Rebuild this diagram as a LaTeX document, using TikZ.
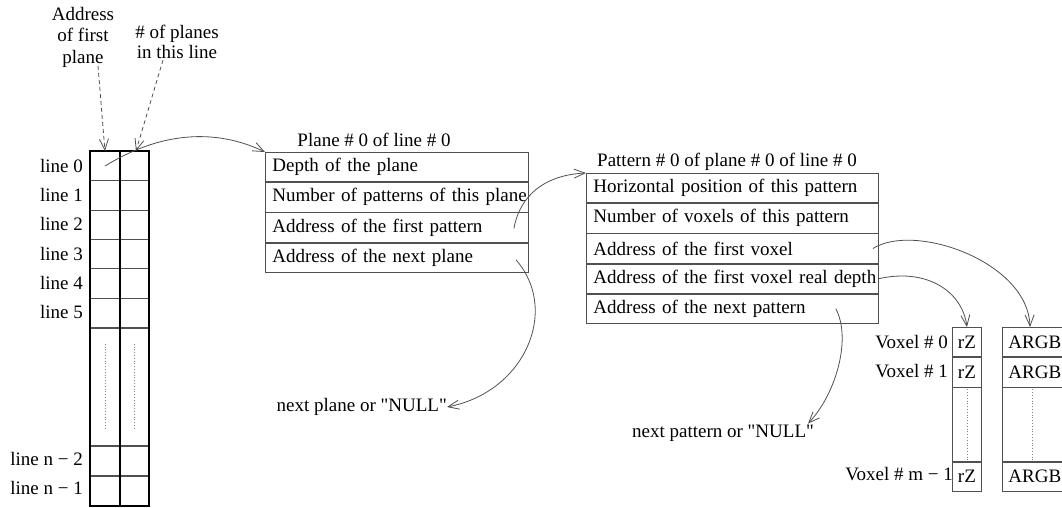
\documentclass[tikz,border=0pt]{standalone}
\usepackage{fontspec}
\setmainfont{Liberation Serif}
\usetikzlibrary{arrows.meta,calc}
\definecolor{edge}{HTML}{505050}
\newcommand{\qq}{\textquotedbl}
\begin{document}
\begin{tikzpicture}[x=1pt,y=-1pt,
  lbl/.style={font=\fontsize{19}{21}\selectfont, inner sep=0pt},
  field/.style={draw=edge, line width=0.9pt, anchor=north west, minimum height=29.3pt,
    inner xsep=7pt, inner ysep=0pt, align=left, font=\fontsize{19}{21}\selectfont},
  planefield/.style={field, text width=249pt},
  patfield/.style={field, text width=278pt},
  cell/.style={draw=edge, line width=0.9pt, anchor=north west, minimum width=29pt,
    minimum height=29.3pt, inner sep=0pt},
  rzcell/.style={cell, font=\fontsize{19}{21}\selectfont},
  argbcell/.style={field, text width=62pt, inner xsep=6pt},
  ptr/.style={draw=edge, line width=0.8pt, -{Straight Barb[length=11pt,width=9pt]}},
  note/.style={ptr, dash pattern=on 4pt off 3pt},
  frame/.style={line width=2.4pt, draw=black},
  ellipsis/.style={draw=gray, line width=0.8pt, dotted}]

\useasboundingbox (0,0) rectangle (1062,507);
\clip (0,0) rectangle (1062,507);

% ---- table of lines ----
\foreach \i in {0,...,5} {
  \node[cell] (a\i) at (90,151+\i*29.3) {};
  \node[cell] (b\i) at (119,151+\i*29.3) {};
  \node[lbl, anchor=east] (l\i) at (83,165.6+\i*29.3) {line \i};
}
\node[cell, minimum height=117.2pt] (ag) at (a5.south west) {};
\node[cell, minimum height=117.2pt] (bg) at (b5.south west) {};
\node[cell] (an2) at (ag.south west) {};
\node[cell] (bn2) at (bg.south west) {};
\node[cell] (an1) at (an2.south west) {};
\node[cell] (bn1) at (bn2.south west) {};
\node[lbl, anchor=east] (ln2) at (83,458.6) {line n − 2};
\node[lbl, anchor=east] (ln1) at (83,487.9) {line n − 1};
\draw[ellipsis] ($(ag.north)+(0,16)$) -- ($(ag.south)+(0,-17)$);
\draw[ellipsis] ($(bg.north)+(0,16)$) -- ($(bg.south)+(0,-17)$);
\draw[frame] (a0.north west) rectangle (bn1.south east);
\draw[frame] (a0.north east) -- (an1.south east);

% ---- column captions ----
\node[lbl, align=center, font=\fontsize{19}{21.5}\selectfont] (addr) at (83,37) {Address\\of first\\plane};
\node[lbl, align=center, font=\fontsize{19}{20}\selectfont] (count) at (177,42) {\# of planes\\in this line};
\coordinate (addrfoot) at (98,66);
\coordinate (countfoot) at (163,60);
\draw[note] (addrfoot) -- (a0.north);
\draw[note] (countfoot) -- ($(b0.north)+(2,0)$);

% ---- plane record ----
\node[lbl] (ptitle) at (374,140) {Plane \# 0 of line \# 0};
\node[planefield] (p0) at (265,152) {\mbox{Depth of the plane}};
\node[planefield] (p1) at (p0.south west) {\mbox{Number of patterns of this plane}};
\node[planefield] (p2) at (p1.south west) {\mbox{Address of the first pattern}};
\node[planefield] (p3) at (p2.south west) {\mbox{Address of the next plane}};

% ---- pattern record ----
\node[lbl] (qtitle) at (727,162) {Pattern \# 0 of plane \# 0 of line \# 0};
\node[patfield] (q0) at (586,173) {\mbox{Horizontal position of this pattern}};
\node[patfield] (q1) at (q0.south west) {\mbox{Number of voxels of this pattern}};
\node[patfield] (q2) at (q1.south west) {\mbox{Address of the first voxel}};
\node[patfield] (q3) at (q2.south west) {\mbox{Address of the first voxel real depth}};
\node[patfield] (q4) at (q3.south west) {\mbox{Address of the next pattern}};

% ---- voxel arrays ----
\node[rzcell] (v0) at (952,327) {rZ};
\node[rzcell] (v1) at (v0.south west) {rZ};
\node[cell, minimum height=73.3pt] (vg) at (v1.south west) {};
\node[rzcell] (vm) at (vg.south west) {rZ};
\node[argbcell] (c0) at (1002,327) {ARGB};
\node[argbcell] (c1) at (c0.south west) {ARGB};
\node[argbcell, minimum height=73.3pt] (cg) at (c1.south west) {};
\node[argbcell] (cm) at (cg.south west) {ARGB};
\draw[ellipsis] ($(vg.north)+(0,2)$) -- ($(vg.south)+(0,-2)$);
\draw[ellipsis] ($(cg.north west)+(30,2)$) -- ($(cg.south west)+(30,-2)$);
\node[lbl, anchor=east] (vl0) at (948,342) {Voxel \# 0};
\node[lbl, anchor=east] (vl1) at (948,371) {Voxel \# 1};
\node[lbl, anchor=east] (vlm) at (953,474) {Voxel \# m − 1};

% ---- end markers ----
\node[lbl, anchor=east] (np) at (447,407) {next plane or \qq NULL\qq};
\node[lbl] (nt) at (723,433) {next pattern or \qq NULL\qq};

% ---- pointers ----
\draw[ptr] (a0.center) .. controls (160,132) and (215,128) .. (p0.north west);
\draw[ptr] ($(p2.east)+(-15,1)$) .. controls (520,195) and (545,175) .. (q0.north west);
\draw[ptr] ($(p3.east)+(-13,2)$) .. controls (560,310) and (525,392) .. (np.east);
\draw[ptr] ($(q4.east)+(-43,0)$) .. controls (852,340) and (835,395) .. ($(nt.north east)+(-6,-1)$);
\draw[ptr] ($(q2.east)+(-6,0)$) .. controls (915,222) and (1028,262) .. (c0.north west -| 1030,0);
\draw[ptr] (q3.east) .. controls (925,268) and (962,290) .. (v0.north);
\end{tikzpicture}
\end{document}
